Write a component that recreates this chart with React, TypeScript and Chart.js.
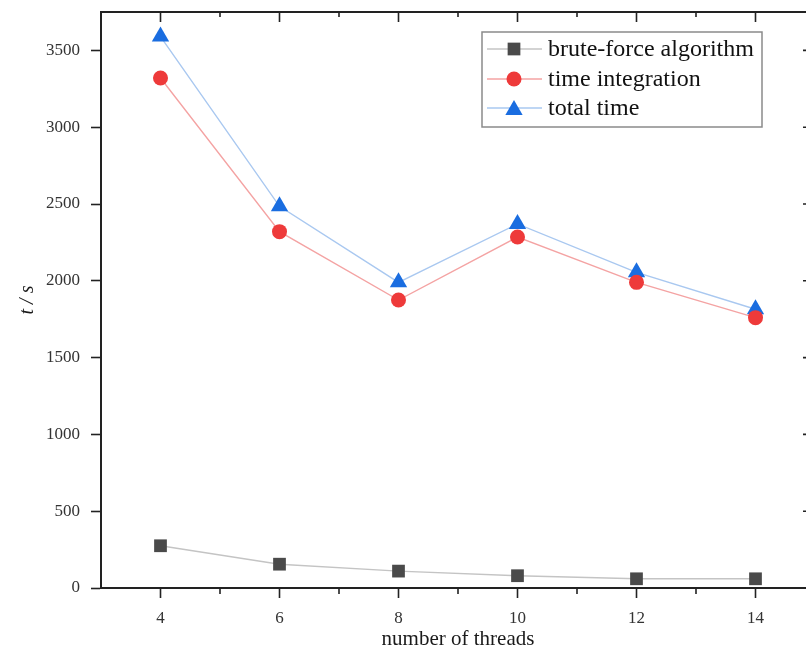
import React, { useEffect, useRef } from 'react';
import { Chart, registerables } from 'chart.js';

Chart.register(...registerables);

const threads = [4, 6, 8, 10, 12, 14];
const bruteForce = [275, 155, 110, 80, 60, 60];
const timeIntegration = [3320, 2320, 1875, 2285, 1990, 1760];
const totalTime = [3590, 2485, 1990, 2370, 2055, 1815];
const seriesNames = ['brute-force algorithm', 'time integration', 'total time'];
const xTickValues = [4, 6, 8, 10, 12, 14];
const yTickValues = [0, 500, 1000, 1500, 2000, 2500, 3000, 3500];
const xTitle = 'number of threads';
const yTitle = 't / s';

const SERIF = '"Liberation Serif", "Times New Roman", serif';
const AXIS = '#222222';

const markerColors = ['#4a4a4a', '#ee3a3a', '#1a6de0'];
const lineColors = ['#c4c4c4', '#f4a3a3', '#a9c8f0'];
const markerStyles = ['rect', 'circle', 'triangle'];
const markerRadii = [9, 7.5, 10];

function drawMarker(ctx: CanvasRenderingContext2D, style: string, x: number, y: number, r: number, fill: string) {
  ctx.fillStyle = fill;
  ctx.beginPath();
  if (style === 'rect') {
    const s = Math.SQRT1_2 * r;
    ctx.rect(x - s, y - s, 2 * s, 2 * s);
  } else if (style === 'circle') {
    ctx.arc(x, y, r, 0, Math.PI * 2);
  } else {
    ctx.moveTo(x, y - r);
    ctx.lineTo(x + r * 0.866, y + r / 2);
    ctx.lineTo(x - r * 0.866, y + r / 2);
    ctx.closePath();
  }
  ctx.fill();
}

const framePlugin = {
  id: 'frame',
  afterDraw(chart: any) {
    const { ctx, chartArea: a, scales } = chart;
    const x = scales.x;
    const y = scales.y;
    ctx.save();
    ctx.strokeStyle = AXIS;
    ctx.lineWidth = 2;
    ctx.beginPath();
    ctx.moveTo(a.left - 1, a.top);
    ctx.lineTo(a.right, a.top);
    ctx.lineTo(a.right, a.bottom);
    ctx.stroke();
    ctx.lineWidth = 1.6;
    ctx.beginPath();
    xTickValues.forEach((v) => {
      const px = x.getPixelForValue(v);
      ctx.moveTo(px, a.top);
      ctx.lineTo(px, a.top + 10);
    });
    for (let i = 0; i < xTickValues.length - 1; i++) {
      const v = (xTickValues[i] + xTickValues[i + 1]) / 2;
      const px = x.getPixelForValue(v);
      ctx.moveTo(px, a.top);
      ctx.lineTo(px, a.top + 5);
      ctx.moveTo(px, a.bottom);
      ctx.lineTo(px, a.bottom + 6);
    }
    yTickValues.forEach((v) => {
      const py = y.getPixelForValue(v);
      ctx.moveTo(a.right, py);
      ctx.lineTo(a.right - 12, py);
    });
    ctx.stroke();
    ctx.restore();
  },
};

const legendPlugin = {
  id: 'customLegend',
  afterDraw(chart: any) {
    const ctx = chart.ctx as CanvasRenderingContext2D;
    const bx = 482, by = 32, bw = 280, bh = 95;
    ctx.save();
    ctx.fillStyle = '#ffffff';
    ctx.fillRect(bx, by, bw, bh);
    ctx.strokeStyle = '#8a8a8a';
    ctx.lineWidth = 1.5;
    ctx.strokeRect(bx, by, bw, bh);
    const rows = [49, 79, 108];
    seriesNames.forEach((name, i) => {
      const cy = rows[i];
      ctx.strokeStyle = lineColors[i];
      ctx.lineWidth = 1.5;
      ctx.beginPath();
      ctx.moveTo(487, cy);
      ctx.lineTo(542, cy);
      ctx.stroke();
      drawMarker(ctx, markerStyles[i], 514, cy + (markerStyles[i] === 'triangle' ? 2 : 0), markerRadii[i], markerColors[i]);
      ctx.fillStyle = '#111111';
      ctx.font = `24px ${SERIF}`;
      ctx.textBaseline = 'middle';
      ctx.textAlign = 'left';
      ctx.fillText(name, 548, cy + 1);
    });
    ctx.restore();
  },
};

export default function App() {
  const canvasRef = useRef<HTMLCanvasElement | null>(null);

  useEffect(() => {
    document.body.style.margin = '0';
    const canvas = canvasRef.current;
    if (!canvas) return;
    const seriesData = [bruteForce, timeIntegration, totalTime];
    const chart = new Chart(canvas, {
      type: 'line',
      data: {
        datasets: seriesNames.map((name, i) => ({
          label: name,
          data: threads.map((t, j) => ({ x: t, y: seriesData[i][j] })),
          borderColor: lineColors[i],
          borderWidth: 1.4,
          pointStyle: markerStyles[i] as any,
          pointRadius: markerRadii[i],
          pointBackgroundColor: markerColors[i],
          pointBorderColor: markerColors[i],
          pointBorderWidth: 0,
          tension: 0,
          fill: false,
        })),
      },
      options: {
        responsive: false,
        devicePixelRatio: 1,
        animation: false,
        layout: { padding: { top: 12, right: 15, left: 0, bottom: 0 } },
        plugins: { legend: { display: false }, tooltip: { enabled: false } },
        scales: {
          x: {
            type: 'linear',
            min: 3,
            max: 15,
            afterBuildTicks: (scale: any) => {
              scale.ticks = xTickValues.map((v) => ({ value: v }));
            },
            afterFit: (scale: any) => {
              scale.height = 65;
              scale.paddingLeft = 0;
              scale.paddingRight = 0;
            },
            grid: {
              drawOnChartArea: false,
              drawTicks: true,
              tickLength: 10,
              tickColor: AXIS,
              tickWidth: 1.6,
              color: AXIS,
            },
            border: { display: true, color: AXIS, width: 2 },
            ticks: {
              font: { family: SERIF, size: 17 },
              color: '#333333',
              padding: 10,
              maxRotation: 0,
              callback: (v: any) => String(v),
            },
            title: {
              display: true,
              text: xTitle,
              font: { family: SERIF, size: 21 },
              color: '#1a1a1a',
              padding: { top: 0, bottom: 1 },
            },
          },
          y: {
            type: 'linear',
            min: 0,
            max: 3750,
            afterBuildTicks: (scale: any) => {
              scale.ticks = yTickValues.map((v) => ({ value: v }));
            },
            afterFit: (scale: any) => {
              scale.width = 101;
              scale.paddingTop = 0;
              scale.paddingBottom = 0;
            },
            grid: {
              drawOnChartArea: false,
              drawTicks: true,
              tickLength: 10,
              tickColor: AXIS,
              tickWidth: 1.6,
              color: AXIS,
            },
            border: { display: true, color: AXIS, width: 2 },
            ticks: {
              font: { family: SERIF, size: 17 },
              color: '#333333',
              padding: 11,
              callback: (v: any) => String(v),
            },
            title: {
              display: true,
              text: yTitle,
              font: { family: SERIF, size: 20, style: 'italic' },
              color: '#1a1a1a',
              padding: { top: 16, bottom: 0 },
            },
          },
        },
      },
      plugins: [framePlugin, legendPlugin],
    } as any);
    return () => chart.destroy();
  }, []);

  return (
    <div style={{ width: 806, height: 653, overflow: 'hidden', position: 'relative', background: '#ffffff' }}>
      <canvas ref={canvasRef} width={830} height={653} style={{ display: 'block', width: 830, height: 653 }} />
    </div>
  );
}
